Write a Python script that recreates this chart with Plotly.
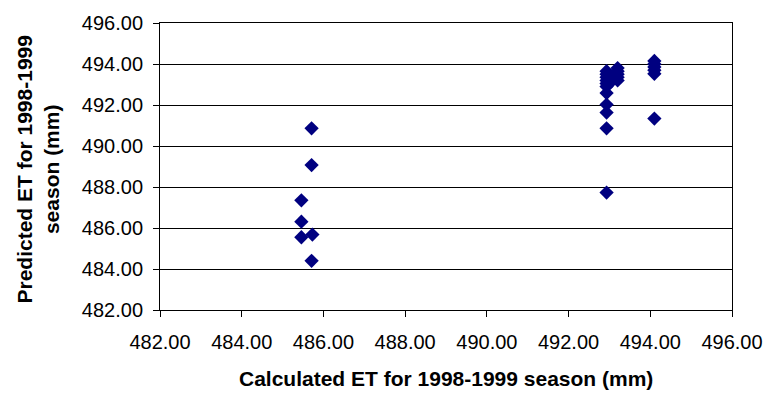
import plotly.graph_objects as go

# Calculated ET (x) and Predicted ET (y) for 1998-1999 season (mm)
calc_left = [485.71, 485.71, 485.46, 485.46, 485.46, 485.73, 485.71]
pred_left = [490.86, 489.07, 487.35, 486.31, 485.55, 485.68, 484.40]

calc_a = [492.93] * 11
pred_a = [493.65, 493.50, 493.35, 493.20, 493.05, 492.90, 492.58, 492.02, 491.63, 490.86, 487.73]

calc_b = [493.05, 493.05]
pred_b = [493.40, 493.15]

calc_c = [493.20] * 5
pred_c = [493.80, 493.65, 493.50, 493.35, 493.20]

calc_d = [494.10] * 6
pred_d = [494.15, 494.00, 493.85, 493.70, 493.52, 491.34]

x_vals = calc_left + calc_a + calc_b + calc_c + calc_d
y_vals = pred_left + pred_a + pred_b + pred_c + pred_d

tick_vals = [482, 484, 486, 488, 490, 492, 494, 496]
tick_text = ["482.00", "484.00", "486.00", "488.00", "490.00", "492.00", "494.00", "496.00"]

x_title = "Calculated ET for 1998-1999 season (mm)"
y_title = "Predicted ET for 1998-1999<br>season (mm)"

font_family = "Liberation Sans, Arial, sans-serif"

fig = go.Figure()
fig.add_trace(go.Scatter(
    x=x_vals, y=y_vals, mode="markers",
    marker=dict(symbol="diamond", size=11, color="#000080",
                line=dict(width=0)),
    showlegend=False, hoverinfo="x+y",
))

axis_common = dict(
    tickmode="array", tickvals=tick_vals, ticktext=tick_text,
    showline=True, linecolor="#000000", linewidth=1, mirror=True,
    ticks="outside", ticklen=6, tickcolor="#000000", tickwidth=1,
    tickfont=dict(family=font_family, size=20, color="#000000"),
    zeroline=False,
)

fig.update_layout(
    width=775, height=400,
    margin=dict(l=160, r=41, t=15, b=90, pad=0),
    paper_bgcolor="#ffffff", plot_bgcolor="#ffffff",
    font=dict(family=font_family, color="#000000"),
    xaxis=dict(range=[482, 496], showgrid=False, ticklabelstandoff=8, **axis_common),
    yaxis=dict(range=[482, 496], showgrid=True, gridcolor="#000000", gridwidth=1,
               ticklabelstandoff=6, **axis_common),
    annotations=[
        dict(text="<b>" + x_title + "</b>", xref="paper", yref="paper",
             x=0.5, y=-0.24, xanchor="center", yanchor="middle", showarrow=False,
             font=dict(family=font_family, size=21, color="#000000")),
        dict(text="<b>" + y_title + "</b>", xref="paper", yref="paper",
             x=-0.213, y=0.49, xanchor="center", yanchor="middle", showarrow=False,
             textangle=-90,
             font=dict(family=font_family, size=21, color="#000000")),
    ],
)

fig.write_html("out.html")
